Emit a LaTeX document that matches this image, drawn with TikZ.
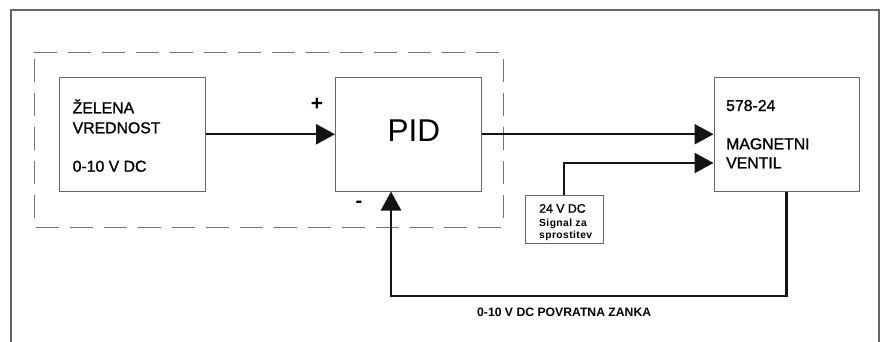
\documentclass[tikz,border=0pt]{standalone}
\usepackage{fontspec}
\setmainfont{Liberation Sans}
\newfontfamily\heavy{Liberation Sans}[FakeBold=1.2]
\usetikzlibrary{arrows.meta}
\begin{document}
\begin{tikzpicture}[x=1pt,y=-1pt,
  frame/.style={draw=black!60, line width=1.8pt},
  dashbox/.style={draw=black!55, line width=0.9pt, dash pattern=on 23pt off 11pt},
  box/.style={draw=black!60, line width=1pt, rectangle, inner sep=0pt, fill=white},
  arr/.style={draw=black!92, line width=2.4pt, -{Triangle[length=19pt,width=20pt]}},
  big/.style={font=\heavy\fontsize{15.8}{19}\selectfont, anchor=base west, inner sep=0pt},
  small/.style={font=\fontsize{10.3}{13}\selectfont\bfseries, anchor=base west, inner sep=0pt},
  sign/.style={font=\fontsize{21}{24}\selectfont\bfseries, inner sep=0pt}
]
\useasboundingbox (0,0) rectangle (880,341);
\draw[frame] (11,342) -- (11,10) -- (879,10) -- (879,342);
\draw[dashbox] (34,52) -- (503,52) -- (503,227) -- (34,227) -- cycle;

\node[box, minimum width=145.5pt, minimum height=113.5pt] (sp) at (132.25,134.25) {};
\node[box, minimum width=145.5pt, minimum height=113.5pt] (pid) at (408.25,134.25) {};
\node[box, minimum width=145pt, minimum height=113.5pt] (valve) at (786.5,134.25) {};
\node[box, minimum width=78pt, minimum height=48pt] (rel) at (564,219) {};

\node[big] (t1) at (72.5,113.3) {ŽELENA};
\node[big] (t2) at (72.5,133.3) {VREDNOST};
\node[big] (t3) at (72.5,171.7) {0-10 V DC};

\node[font=\fontsize{31.5}{34}\selectfont, anchor=base west, inner sep=0pt] (pidt) at (387.5,141.7) {PID};

\node[big] (v1) at (726,111) {578-24};
\node[big] (v2) at (726,149.3) {MAGNETNI};
\node[big] (v3) at (726,168.3) {VENTIL};

\node[font=\heavy\fontsize{12.3}{14}\selectfont, anchor=base west, inner sep=0pt] (r1) at (539,212.7) {24 V DC};
\node[small] (r2) at (539,226) {\addfontfeature{LetterSpace=4}Signal za};
\node[small] (r3) at (539,238.3) {\addfontfeature{LetterSpace=4}sprostitev};

\node[sign] (plus) at (317,104) {+};
\node[font=\fontsize{20}{24}\selectfont\bfseries, inner sep=0pt] (minus) at (359,204) {-};

\node[font=\fontsize{12.2}{14}\selectfont\bfseries, anchor=base west, inner sep=0pt] (fbl) at (477,316) {0-10 V DC POVRATNA ZANKA};

\draw[arr] (sp.east) -- (pid.west);
\draw[arr] (pid.east) -- (valve.west);
\draw[arr] (rel.north) |- ([yshift=-28.75pt]valve.west);
\coordinate (fbc) at (391,296);
\draw[arr] (valve.south) |- (fbc) -- ([xshift=-17.25pt]pid.south);
\end{tikzpicture}
\end{document}
